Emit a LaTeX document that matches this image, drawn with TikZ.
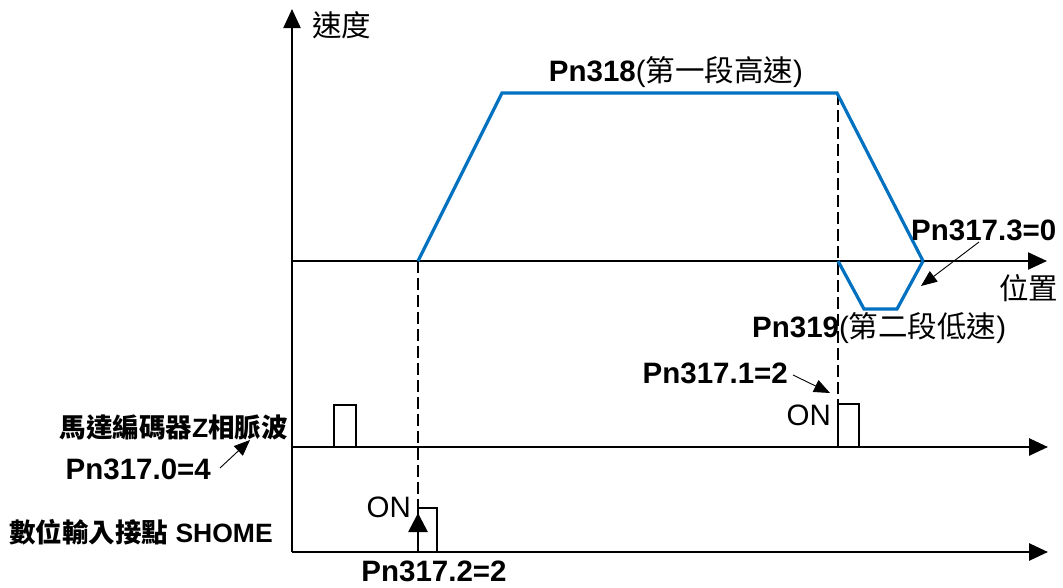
\documentclass[tikz,border=0pt]{standalone}
\usepackage{fontspec}
\setmainfont{Liberation Sans}
\newfontfamily\cjk{Noto Sans CJK TC}
\usetikzlibrary{arrows.meta}
\definecolor{spblue}{RGB}{0,112,192}
\begin{document}
\begin{tikzpicture}[x=1pt,y=-1pt,
  ax/.style={line width=2.2pt, -{Triangle[length=19pt,width=17pt]}},
  base/.style={line width=2.8pt, -{Triangle[length=19pt,width=17pt]}},
  spd/.style={line width=3.2pt, draw=spblue, line join=miter},
  guide/.style={line width=2pt, dash pattern=on 12pt off 5pt},
  pulse/.style={line width=2.8pt},
  note/.style={line width=0.9pt, -{Triangle[length=16pt,width=13pt]}},
  up/.style={line width=2.8pt, -{Triangle[length=19pt,width=19pt]}},
  lbl/.style={font=\fontsize{29.5}{31}\selectfont\bfseries, inner sep=0pt},
  lbls/.style={font=\fontsize{26.5}{28}\selectfont\bfseries, inner sep=0pt},
  txt/.style={font=\fontsize{29.5}{31}\selectfont, inner sep=0pt},
]
\useasboundingbox (0,0) rectangle (1063,587);

% coordinates
\coordinate (O) at (292,552);
\coordinate (Ytop) at (292,9);
\coordinate (S0) at (292,261);
\coordinate (S1) at (1047,261);
\coordinate (Z0) at (292,447);
\coordinate (Z1) at (1048,447);
\coordinate (H1) at (1048,552);

% axes
\draw[ax] (O) -- (Ytop);
\draw[ax] (S0) -- (S1);
\draw[base] (Z0) -- (Z1);
\draw[base] (O) -- (H1);

% guides
\coordinate (g1a) at (418,261);
\coordinate (g1b) at (418,508);
\coordinate (g2a) at (838,93);
\coordinate (g2b) at (838,404);
\draw[guide] (g1a) -- (g1b);
\draw[guide] (g2a) -- (g2b);

% speed profile
\coordinate (p1) at (502,93);
\coordinate (p2) at (837,93);
\coordinate (p3) at (923,261);
\coordinate (q0) at (838,261);
\coordinate (q1) at (864,309);
\coordinate (q2) at (897,309);
\draw[spd] (g1a) -- (p1) -- (p2) -- (p3);
\draw[spd] (q0) -- (q1) -- (q2) -- (p3);

% pulses
\draw[pulse] (334,447) -- (334,405) -- (356,405) -- (356,447);
\draw[pulse] (838,447) -- (838,404) -- (859,404) -- (859,447);
\draw[pulse] (418,552) -- (418,508) -- (437,508) -- (437,552);

% texts
\node[txt, anchor=west] (vlab) at (312,25) {\cjk 速度};
\node[txt, anchor=west] (xlab) at (999,288) {\cjk 位置};
\node[txt] (hi) at (676,72) {{\bfseries Pn318}({\cjk 第一段高速})};
\node[txt, anchor=west] (lo) at (752,328) {{\bfseries Pn319}({\cjk 第二段低速})};
\node[lbl, anchor=west] (n3) at (911,230) {Pn317.3=0};
\node[lbl, anchor=east] (n1) at (788,373) {Pn317.1=2};
\node[txt, anchor=east] (on1) at (831,415) {ON};
\node[txt, anchor=east] (on2) at (411,507) {ON};
\node[lbls, anchor=east] (zlab) at (288,427) {{\cjk 馬達編碼器}Z{\cjk 相脈波}};
\node[lbl, anchor=east] (n0) at (211,469) {Pn317.0=4};
\node[lbls, anchor=west] (hlab) at (9,532) {{\cjk 數位輸入接點} SHOME};
\node[lbl] (n2) at (434,571) {Pn317.2=2};

% annotation arrows
\coordinate (a3t) at (979,242);
\coordinate (a3h) at (921,286);
\coordinate (a1t) at (793,375);
\coordinate (a1h) at (830,393);
\coordinate (a0t) at (220,468);
\coordinate (a0h) at (250,440);
\draw[note] (a3t) -- (a3h);
\draw[note] (a1t) -- (a1h);
\draw[note] (a0t) -- (a0h);
\coordinate (upt) at (418,552);
\coordinate (uph) at (418,513);
\draw[up] (upt) -- (uph);
\end{tikzpicture}
\end{document}
